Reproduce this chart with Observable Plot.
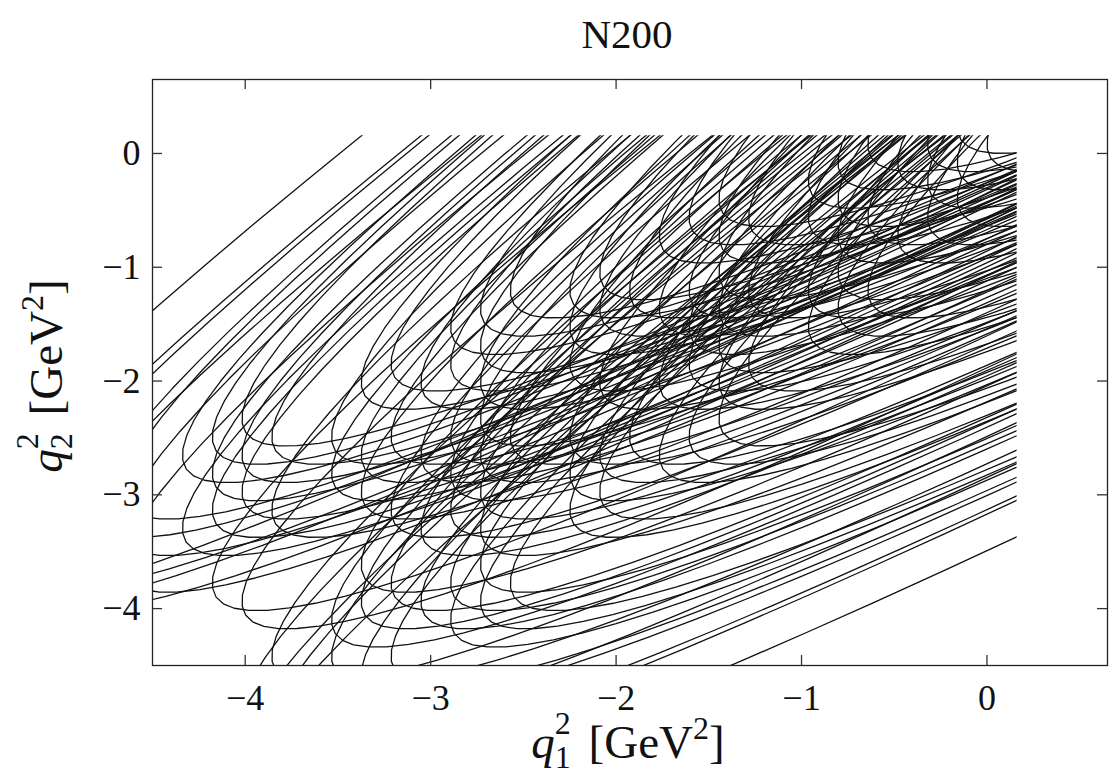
<!DOCTYPE html>
<html>
<head>
<meta charset="utf-8">
<script src="https://cdn.jsdelivr.net/npm/d3@7"></script>
<script src="https://cdn.jsdelivr.net/npm/@observablehq/plot@0.6"></script>
<style>
  html, body { margin: 0; padding: 0; background: #fff; }
  #chart { width: 1116px; height: 780px; }
</style>
</head>
<body>
<div id="chart"></div>
<script>
// ---- data ----------------------------------------------------------------
const title = "N200";
const xTicks = [-4, -3, -2, -1, 0];
const yTicks = [-4, -3, -2, -1, 0];
const qCut = 0.16;   // every curve stops at q1² = 0.16 and q2² = 0.16 GeV²

// Common shape of every kinematic curve, measured from its own minima
// (q1² − min q1², q2² − min q2²), one vertex per sampled photon energy.
const arcQ1 = [3.822, 3.441, 3.080, 2.739, 2.418, 2.117, 1.836, 1.575, 1.334, 1.113,
  0.912, 0.731, 0.570, 0.429, 0.308, 0.207, 0.126, 0.065, 0.024, 0.003, 0.002, 0.021,
  0.060,
  0.119, 0.198, 0.297, 0.416, 0.555, 0.714, 0.893, 1.092, 1.311, 1.550, 1.809,
  2.088, 2.387, 2.706, 3.045, 3.404, 3.783, 4.182, 4.601, 5.040, 5.499, 5.978];
const arcQ2 = [5.978, 5.499, 5.040, 4.601, 4.182, 3.783, 3.404, 3.045, 2.706, 2.387,
  2.088, 1.809, 1.550, 1.311, 1.092, 0.893, 0.714, 0.555, 0.416, 0.297, 0.198, 0.119,
  0.060,
  0.021, 0.002, 0.003, 0.024, 0.065, 0.126, 0.207, 0.308, 0.429, 0.570, 0.731,
  0.912, 1.113, 1.334, 1.575, 1.836, 2.117, 2.418, 2.739, 3.080, 3.441, 3.822];

// Minimum q1² (vertical tangent column) and minimum q2² (horizontal tangent row) of each curve
const q1Min = [
  0,
  -0.161, -0.161, -0.161,
  -0.321, -0.321, -0.321,
  -0.482, -0.482,
  -0.643, -0.643, -0.643,
  -0.804, -0.804, -0.804, -0.804, -0.804,
  -0.964, -0.964, -0.964, -0.964,
  -1.286, -1.286, -1.286,
  -1.446, -1.446, -1.446, -1.446, -1.446, -1.446, -1.446,
  -1.607, -1.607, -1.607, -1.607, -1.607,
  -1.768, -1.768, -1.768, -1.768,
  -1.928, -1.928,
  -2.089, -2.089, -2.089, -2.089, -2.089,
  -2.250, -2.250, -2.250, -2.250, -2.250, -2.250,
  -2.571, -2.571, -2.571,
  -2.732, -2.732, -2.732, -2.732, -2.732, -2.732, -2.732, -2.732, -2.732,
  -2.893, -2.893, -2.893, -2.893, -2.893, -2.893, -2.893,
  -3.053, -3.053, -3.053, -3.053,
  -3.214, -3.214, -3.214, -3.214, -3.214,
  -3.375, -3.375, -3.375, -3.375, -3.375, -3.375,
  -3.535, -3.535, -3.535, -3.535,
  -3.857, -3.857, -3.857, -3.857,
  -4.018, -4.018, -4.018, -4.018, -4.018, -4.018, -4.018,
  -4.178, -4.178, -4.178, -4.178,
  -4.339, -4.339,
  -4.660, -4.660, -4.660,
  -4.821,
  -5.142,
  -5.303,
  -5.464,
  -5.785
];
const q2Min = [
  -0.161,
  -0.321, 0, -0.643,
  -0.482, -0.161, -0.804,
  -0.321, -0.964,
  -0.804, -0.161, -1.446,
  -0.964, -0.643, -1.286, -0.321, -1.607,
  -0.804, -1.446, -0.482, -1.768,
  -1.446, -0.804, -2.089,
  -1.607, -1.286, -1.928, -0.964, -2.250, -0.643, -2.571,
  -1.768, -1.446, -2.089, -0.804, -2.732,
  -1.607, -2.250, -0.964, -2.893,
  -1.446, -2.732,
  -2.250, -1.607, -2.893, -1.286, -3.214,
  -2.089, -2.732, -1.768, -3.053, -1.446, -3.375,
  -2.732, -1.446, -4.018,
  -2.893, -2.571, -3.214, -2.250, -3.535, -1.928, -3.857, -1.607, -4.178,
  -3.053, -2.732, -3.375, -2.089, -4.018, -1.768, -4.339,
  -2.893, -3.535, -2.250, -4.178,
  -3.375, -2.732, -4.018, -2.089, -4.660,
  -3.214, -3.857, -2.893, -4.178, -2.250, -4.821,
  -3.053, -4.339, -2.732, -4.660,
  -3.375, -4.660, -2.732, -5.303,
  -4.178, -3.214, -5.142, -2.893, -5.464, -2.571, -5.785,
  -4.018, -3.375, -3.053, -2.732,
  -3.535, -2.893,
  -3.857, -3.535, -3.214,
  -3.375,
  -4.018,
  -3.857,
  -4.018,
  -4.018
];

// ---- table for the line mark ---------------------------------------------
const rows = [];
q1Min.forEach((m1, i) => {
  arcQ1.forEach((d1, j) => {
    rows.push({curve: i, q1: m1 + d1, q2: q2Min[i] + arcQ2[j]});
  });
});

// ---- layout ----------------------------------------------------------------
const W = 1116, H = 780;
const mL = 152, mR = 9, mT = 79, mB = 115;
const fw = W - mL - mR, fh = H - mT - mB;
const serif = "'Liberation Serif', 'DejaVu Serif', serif";
const tickLen = 10;
const fmt = d => (d < 0 ? "\u2212" + (-d) : String(d));

const plot = Plot.plot({
  width: W, height: H,
  marginLeft: mL, marginRight: mR, marginTop: mT, marginBottom: mB,
  x: {domain: [-4.5, 0.65]},
  y: {domain: [-4.5, 0.65]},
  style: {fontFamily: serif, background: "#fff", color: "#111"},
  marks: [
    Plot.line(rows, {x: "q1", y: "q2", z: "curve", stroke: "#111", strokeWidth: 1.3}),
    Plot.frame({stroke: "#222", strokeWidth: 1.3}),
    Plot.tickX(xTicks, {x: d => d, insetTop: fh - tickLen, stroke: "#333", strokeWidth: 1.3}),
    Plot.tickX(xTicks, {x: d => d, insetBottom: fh - tickLen, stroke: "#333", strokeWidth: 1.3}),
    Plot.tickY(yTicks, {y: d => d, insetRight: fw - tickLen, stroke: "#333", strokeWidth: 1.3}),
    Plot.tickY(yTicks, {y: d => d, insetLeft: fw - tickLen, stroke: "#333", strokeWidth: 1.3}),
    Plot.axisX(xTicks, {anchor: "bottom", tickSize: 0, tickPadding: 19, fontSize: 36, label: null, fill: "#111", tickFormat: fmt}),
    Plot.axisY(yTicks, {anchor: "left", tickSize: 0, tickPadding: 12, fontSize: 36, label: null, fill: "#111", tickFormat: fmt})
  ]
});

document.getElementById("chart").appendChild(plot);

// ---- stop every curve at q² = 0.16 ----------------------------------------
const sx = plot.scale("x"), sy = plot.scale("y");
const svg = d3.select(plot);
const defs = svg.insert("defs", ":first-child");
defs.append("clipPath").attr("id", "qcut").append("rect")
  .attr("x", mL).attr("y", sy.apply(qCut))
  .attr("width", sx.apply(qCut) - mL).attr("height", H - mB - sy.apply(qCut));
svg.select('g[aria-label="line"]').attr("clip-path", "url(#qcut)");

// ---- title ----------------------------------------------------------------
svg.append("text").attr("x", 627).attr("y", 48)
  .attr("font-family", serif).attr("font-size", 41).attr("fill", "#111")
  .attr("text-anchor", "middle").text(title);

// ---- axis labels with stacked sub/superscripts ----------------------------
function qLabel(sel, sub) {
  sel.attr("font-family", serif).attr("font-size", 47).attr("fill", "#111").attr("text-anchor", "middle");
  sel.append("tspan").attr("font-style", "italic").text("q");
  sel.append("tspan").attr("font-size", 32).attr("dy", 10).text(sub);
  sel.append("tspan").attr("font-size", 32).attr("dx", -16).attr("dy", -34).text("2");
  sel.append("tspan").attr("dx", 6).attr("dy", 24).text(" [GeV");
  sel.append("tspan").attr("font-size", 32).attr("dy", -19).text("2");
  sel.append("tspan").attr("dy", 19).text("]");
}
svg.append("text").attr("x", 628).attr("y", 758).call(qLabel, "1");
svg.append("text").attr("transform", `translate(62,${(mT + H - mB) / 2 + 4}) rotate(-90)`).call(qLabel, "2");
</script>
</body>
</html>
